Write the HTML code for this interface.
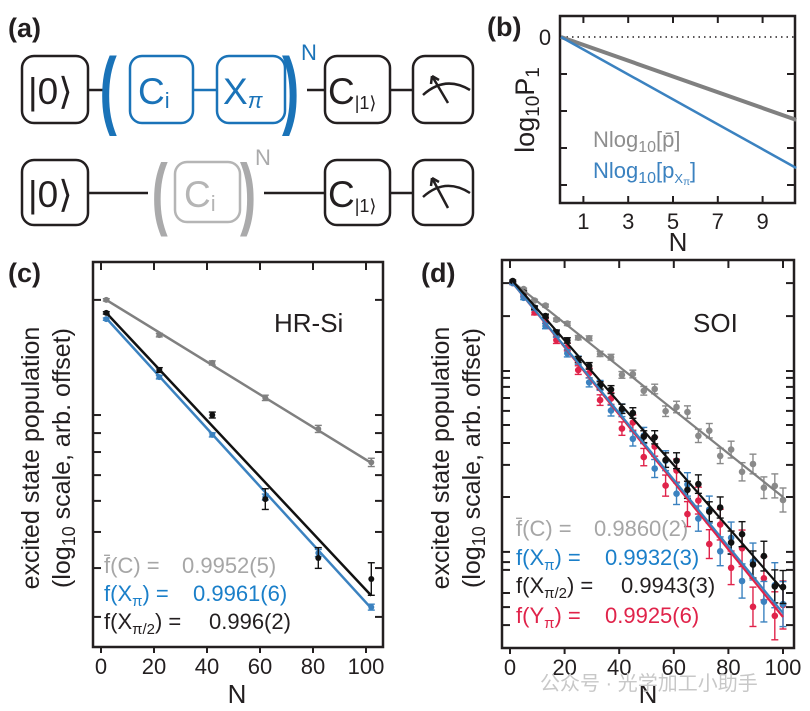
<!DOCTYPE html>
<html><head><meta charset="utf-8"><style>
body{margin:0;background:#fff;}
svg{display:block;font-family:"Liberation Sans","Noto Sans CJK SC",sans-serif;}
</style></head><body>
<svg id="fig" width="810" height="711" viewBox="0 0 810 711" xmlns="http://www.w3.org/2000/svg">
<text x="8" y="37" font-size="27" font-weight="bold" fill="#231f20">(a)</text>
<text x="487" y="36" font-size="27" font-weight="bold" fill="#231f20">(b)</text>
<text x="8" y="282" font-size="27" font-weight="bold" fill="#231f20">(c)</text>
<text x="421" y="282" font-size="27" font-weight="bold" fill="#231f20">(d)</text>

<g stroke-width="2.5" fill="none">
  <g>
    <line x1="88" y1="90" x2="104" y2="90" stroke="#231f20"/>
    <line x1="193" y1="90" x2="217" y2="90" stroke="#1a73b8"/>
    <line x1="307" y1="90" x2="325" y2="90" stroke="#231f20"/>
    <line x1="390" y1="90" x2="413" y2="90" stroke="#231f20"/>
    <rect x="22" y="56" width="66" height="67" rx="12" stroke="#231f20"/>
    <rect x="130" y="56" width="63" height="67" rx="12" stroke="#1a73b8"/>
    <rect x="217" y="56" width="68" height="67" rx="12" stroke="#1a73b8"/>
    <rect x="325" y="56" width="65" height="67" rx="12" stroke="#231f20"/>
    <rect x="413" y="56" width="60" height="67" rx="12" stroke="#231f20"/>
    <path d="M423 95 Q445 75 470 90 M448 103 L432 76 M432 76 l-1 8 M432 76 l7 4" stroke="#231f20"/>
  </g>
  <g>
    <line x1="88" y1="193" x2="148" y2="193" stroke="#231f20"/>
    <line x1="264" y1="193" x2="325" y2="193" stroke="#231f20"/>
    <line x1="390" y1="193" x2="413" y2="193" stroke="#231f20"/>
    <rect x="22" y="160" width="66" height="65" rx="12" stroke="#231f20"/>
    <rect x="175" y="162" width="65" height="60" rx="12" stroke="#b5b5b5"/>
    <rect x="325" y="160" width="65" height="65" rx="12" stroke="#231f20"/>
    <rect x="413" y="160" width="60" height="65" rx="12" stroke="#231f20"/>
    <path d="M423 197 Q445 177 470 193 M448 208 L432 178 M432 178 l-1 8 M432 178 l7 4" stroke="#231f20"/>
  </g>
</g>
<g font-size="37">
  <text x="28" y="104" fill="#231f20">|0⟩</text>
  <text x="100" y="118" font-size="86" fill="#1a73b8" font-weight="bold" transform="scale(0.6,1) translate(66,0)">(</text>
  <text x="138" y="104" fill="#1a73b8">C<tspan font-size="22" dy="4">i</tspan></text>
  <text x="223" y="104" fill="#1a73b8">X<tspan font-size="22" dy="4" font-style="italic">π</tspan></text>
  <text x="282" y="118" font-size="86" fill="#1a73b8" font-weight="bold" transform="scale(0.6,1) translate(188,0)">)</text>
  <text x="301" y="60" font-size="22" fill="#1a73b8">N</text>
  <text x="328" y="104" fill="#231f20">C<tspan font-size="18" dy="5">|1⟩</tspan></text>
  <text x="28" y="207" fill="#231f20">|0⟩</text>
  <text x="152" y="220" font-size="80" fill="#aaaaab" font-weight="bold" transform="scale(0.6,1) translate(101,0)">(</text>
  <text x="184" y="207" fill="#b5b5b5">C<tspan font-size="22" dy="4">i</tspan></text>
  <text x="240" y="220" font-size="80" fill="#aaaaab" font-weight="bold" transform="scale(0.6,1) translate(160,0)">)</text>
  <text x="255" y="165" font-size="22" fill="#aaaaab">N</text>
  <text x="328" y="207" fill="#231f20">C<tspan font-size="18" dy="5">|1⟩</tspan></text>
</g>

<g id="pb"></g>
<g id="pc"></g>
<g id="pd"></g>

<text x="540" y="690" font-size="20" fill="#c8c8c8">公众号 · 光学加工小助手</text>
</svg>
<script>
// ---------- Panel b data ----------
const bN = [0, 10.5];
const bGray = [0, -2.24];
const bBlue = [0, -3.54];
const bXTicks = [1, 3, 5, 7, 9];
const bYTicks = [-1, -2, -3, -4];

// ---------- Panel c data ----------
const cN = [2, 22, 42, 62, 82, 102];
const cGray = [-0.128, -0.247, -0.341, -0.459, -0.564, -0.677];
const cBlue = [-0.193, -0.389, -0.584, -0.794, -0.983, -1.166];
const cBlack = [-0.172, -0.365, -0.517, -0.801, -1.0, -1.071];
const cGrayErr = [0.004, 0.006, 0.007, 0.009, 0.012, 0.014];
const cBlueErr = [0.004, 0.006, 0.007, 0.01, 0.012, 0.01];
const cBlackErr = [0.004, 0.008, 0.01, 0.035, 0.035, 0.055];
const cFitN = [2, 102];
const cFitGray = [-0.128, -0.679];
const cFitBlue = [-0.19, -1.17];
const cFitBlack = [-0.172, -1.127];
const cXTicks = [0, 20, 40, 60, 80, 100];
const cYTicks = [-0.128, -0.517, -0.578, -0.642, -0.720, -0.807, -0.912, -1.034, -1.199];

// ---------- Panel d data ----------
const dN = [1,5,9,13,17,21,25,29,33,37,41,45,49,53,57,61,65,69,73,77,81,85,89,93,97,100];
const dGray = [-0.073,-0.097,-0.135,-0.152,-0.199,-0.212,-0.259,-0.261,-0.313,-0.324,-0.383,-0.380,-0.436,-0.430,-0.504,-0.490,-0.507,-0.586,-0.569,-0.653,-0.632,-0.706,-0.680,-0.759,-0.753,-0.800];
const dBlue = [-0.077,-0.126,-0.160,-0.220,-0.247,-0.311,-0.334,-0.408,-0.418,-0.502,-0.501,-0.596,-0.585,-0.695,-0.669,-0.779,-0.748,-0.862,-0.832,-0.971,-0.926,-1.070,-1.005,-1.139,-1.084,-1.147];
const dBlack = [-0.070,-0.108,-0.159,-0.187,-0.241,-0.268,-0.332,-0.353,-0.418,-0.432,-0.496,-0.510,-0.589,-0.591,-0.667,-0.669,-0.766,-0.747,-0.839,-0.825,-0.942,-0.914,-1.015,-0.987,-1.088,-1.090];
const dRed = [-0.077,-0.116,-0.175,-0.202,-0.267,-0.290,-0.367,-0.377,-0.467,-0.462,-0.562,-0.542,-0.657,-0.622,-0.752,-0.702,-0.847,-0.802,-0.947,-0.882,-1.026,-0.961,-1.156,-1.061,-1.186,-1.150];
const dErr = [0.003,0.004,0.005,0.006,0.007,0.008,0.009,0.01,0.011,0.012,0.014,0.016,0.018,0.02,0.022,0.024,0.026,0.028,0.03,0.032,0.035,0.038,0.041,0.045,0.05,0.05];
const dFitN = [1, 100];
const dFitGray = [-0.073, -0.79];
const dFitBlue = [-0.077, -1.177];
const dFitBlack = [-0.07, -1.1];
const dFitRed = [-0.077, -1.19];
const dXTicks = [0, 20, 40, 60, 80, 100];
const dYTicks = [-0.077,-0.187,-0.37,-0.393,-0.423,-0.46,-0.503,-0.55,-0.61,-0.683,-0.79,-0.973,-1.007,-1.033,-1.11,-1.157,-1.217];

const NS = "http://www.w3.org/2000/svg";
function mk(parent, tag, attrs) {
  const e = document.createElementNS(NS, tag);
  for (const k in attrs) e.setAttribute(k, attrs[k]);
  parent.appendChild(e);
  return e;
}
const BLUE = "#3b82c0", BLACK = "#111", RED = "#e0234a";

(function () {
  const g = document.getElementById("pb");
  const x = n => 561 + n * 22.4;
  const y = v => 37 - v * 37;
  const box = mk(g, "rect", {x: 560, y: 16, width: 235, height: 187, fill: "none", stroke: "#231f20", "stroke-width": 2.5});
  
  
  const zero = mk(g, "line", {x1: 561, y1: y(0), x2: 795, y2: y(0), stroke: "#231f20", "stroke-width": 1.5, "stroke-dasharray": "1.5,4"});
  
  
  bXTicks.forEach(t => {
    mk(g, "line", {x1: x(t), y1: 16, x2: x(t), y2: 23, stroke: "#231f20", "stroke-width": 2});
    mk(g, "line", {x1: x(t), y1: 203, x2: x(t), y2: 196, stroke: "#231f20", "stroke-width": 2});
    const tl = mk(g, "text", {x: x(t), y: 229, "font-size": 22, "text-anchor": "middle", fill: "#231f20"});
    tl.textContent = t;
    
    
  });
  bYTicks.forEach(t => {
    mk(g, "line", {x1: 795, y1: y(t), x2: 787, y2: y(t), stroke: "#231f20", "stroke-width": 2});
    mk(g, "line", {x1: 560, y1: y(t), x2: 567, y2: y(t), stroke: "#231f20", "stroke-width": 2});
  });
  const l1 = mk(g, "polyline", {points: bN.map((n, i) => x(n) + "," + y(bGray[i])).join(" "), fill: "none", stroke: "#808080", "stroke-width": 4});
  
  
  const l2 = mk(g, "polyline", {points: bN.map((n, i) => x(n) + "," + y(bBlue[i])).join(" "), fill: "none", stroke: BLUE, "stroke-width": 2.5});
  
  
  const z = mk(g, "text", {x: 545, y: 45, "font-size": 22, "text-anchor": "middle", fill: "#231f20"});
  z.textContent = "0";
  
  
  const yl = mk(g, "text", {x: 0, y: 0, "font-size": 27, "text-anchor": "middle", fill: "#231f20", transform: "translate(534,110) rotate(-90)"});
  yl.innerHTML = 'log<tspan font-size="19" dy="5">10</tspan><tspan dy="-5">P</tspan><tspan font-size="19" dy="5">1</tspan>';
  
  
  const xl = mk(g, "text", {x: 678, y: 251, "font-size": 26, "text-anchor": "middle", fill: "#231f20"});
  xl.textContent = "N";
  
  
  const lg1 = mk(g, "text", {x: 593, y: 147, "font-size": 22, fill: "#8e8e8e"});
  lg1.innerHTML = 'Nlog<tspan font-size="16" dy="5">10</tspan><tspan dy="-5">[p̄]</tspan>';
  
  
  const lg2 = mk(g, "text", {x: 593, y: 178, "font-size": 22, fill: BLUE});
  lg2.innerHTML = 'Nlog<tspan font-size="16" dy="5">10</tspan><tspan dy="-5">[p</tspan><tspan font-size="13" dy="5">X</tspan><tspan font-size="10" dy="2">π</tspan><tspan dy="-7">]</tspan>';
  
  
})();

function axesPanel(g, X0, X1, Y0, Y1, x, y, xTicks, yTicks, name) {
  const box = mk(g, "rect", {x: X0, y: Y0, width: X1 - X0, height: Y1 - Y0, fill: "none", stroke: "#231f20", "stroke-width": 2.5});
  
  
  xTicks.forEach(t => {
    mk(g, "line", {x1: x(t), y1: Y0, x2: x(t), y2: Y0 + 8, stroke: "#231f20", "stroke-width": 2});
    mk(g, "line", {x1: x(t), y1: Y1, x2: x(t), y2: Y1 + 6, stroke: "#231f20", "stroke-width": 2});
    const tl = mk(g, "text", {x: x(t), y: Y1 + 27, "font-size": 22, "text-anchor": "middle", fill: "#231f20"});
    tl.textContent = t;
    
    
  });
  yTicks.forEach(t => {
    mk(g, "line", {x1: X0, y1: y(t), x2: X0 + 8, y2: y(t), stroke: "#231f20", "stroke-width": 2});
    mk(g, "line", {x1: X1, y1: y(t), x2: X1 - 8, y2: y(t), stroke: "#231f20", "stroke-width": 2});
  });
}
function series(g, x, y, ns, vals, errs, color, r, name, errScale) {
  const sg = mk(g, "g", {});
  
  
  ns.forEach((n, i) => {
    const e = errs[i] * errScale;
    mk(sg, "line", {x1: x(n), y1: y(vals[i] + e), x2: x(n), y2: y(vals[i] - e), stroke: color, "stroke-width": 1.4});
    mk(sg, "line", {x1: x(n) - 3.5, y1: y(vals[i] + e), x2: x(n) + 3.5, y2: y(vals[i] + e), stroke: color, "stroke-width": 1.4});
    mk(sg, "line", {x1: x(n) - 3.5, y1: y(vals[i] - e), x2: x(n) + 3.5, y2: y(vals[i] - e), stroke: color, "stroke-width": 1.4});
    const c = mk(sg, "circle", {cx: x(n), cy: y(vals[i]), r: r, fill: color});
    
    
  });
}
function fit(g, x, y, ns, vs, color, w, name) {
  const l = mk(g, "line", {x1: x(ns[0]), y1: y(vs[0]), x2: x(ns[1]), y2: y(vs[1]), stroke: color, "stroke-width": w});
  
  
}
function label(g, x, y, size, color, html, name, anchor) {
  const t = mk(g, "text", {x: x, y: y, "font-size": size, fill: color, "text-anchor": anchor || "start"});
  t.innerHTML = html;
  
  
  return t;
}

(function () {
  const g = document.getElementById("pc");
  const x = n => 101 + n * 2.65;
  const y = v => 262 - v * 296;
  axesPanel(g, 93, 383, 262, 647, x, y, cXTicks, cYTicks, "c");
  fit(g, x, y, cFitN, cFitGray, "#808080", 2.5, "fit-line-gray");
  fit(g, x, y, cFitN, cFitBlue, BLUE, 2.5, "fit-line-blue");
  fit(g, x, y, cFitN, cFitBlack, BLACK, 2.5, "fit-line-black");
  series(g, x, y, cN, cGray, cGrayErr, "#808080", 3, "series-gray-c", 1);
  series(g, x, y, cN, cBlue, cBlueErr, BLUE, 3, "series-blue-c", 1);
  series(g, x, y, cN, cBlack, cBlackErr, BLACK, 3, "series-black-c", 1);
  label(g, 274, 332, 26, "#231f20", "HR-Si", "sample-label-hrsi");
  label(g, 104, 573, 22, "#a6a6a6", 'f̄(C) =', "legend-gray-c");
  label(g, 182, 573, 22, "#a6a6a6", '0.9952(5)', "legend-gray-c-value");
  label(g, 104, 601, 22, "#1a7fc9", 'f(X<tspan font-size="15" dy="5">π</tspan><tspan dy="-5">) =</tspan>', "legend-blue-c");
  label(g, 193, 601, 22, "#1a7fc9", '0.9961(6)', "legend-blue-c-value");
  label(g, 104, 629, 22, "#231f20", 'f(X<tspan font-size="15" dy="5">π/2</tspan><tspan dy="-5">) =</tspan>', "legend-black-c");
  label(g, 209, 629, 22, "#231f20", '0.996(2)', "legend-black-c-value");
  label(g, 237, 703, 26, "#231f20", "N", "x-axis-title-c", "middle");
  const yt = label(g, 0, 0, 25, "#231f20", "excited state population", "y-axis-title-c", "middle");
  yt.setAttribute("transform", "translate(39,458) rotate(-90)");
  const yt2 = label(g, 0, 0, 25, "#231f20", '(log<tspan font-size="18" dy="5">10</tspan><tspan dy="-5"> scale, arb. offset)</tspan>', "y-axis-subtitle-c", "middle");
  yt2.setAttribute("transform", "translate(70,458) rotate(-90)");
})();

(function () {
  const g = document.getElementById("pd");
  const x = n => 510 + n * 2.73;
  const y = v => 260 - v * 300;
  axesPanel(g, 502, 794, 260, 648, x, y, dXTicks, dYTicks, "d");
  series(g, x, y, dN, dGray, dErr, "#8a8a8a", 3.3, "series-gray-d", 0.8);
  series(g, x, y, dN, dRed, dErr, RED, 3.3, "series-red-d", 1.6);
  series(g, x, y, dN, dBlue, dErr, BLUE, 3.3, "series-blue-d", 1.5);
  series(g, x, y, dN, dBlack, dErr, BLACK, 3.3, "series-black-d", 1.1);
  fit(g, x, y, dFitN, dFitGray, "#808080", 2.2, "fit-line-gray-d");
  fit(g, x, y, dFitN, dFitRed, RED, 2.2, "fit-line-red-d");
  fit(g, x, y, dFitN, dFitBlue, BLUE, 2.2, "fit-line-blue-d");
  fit(g, x, y, dFitN, dFitBlack, BLACK, 2.2, "fit-line-black-d");
  label(g, 693, 332, 26, "#231f20", "SOI", "sample-label-soi");
  label(g, 516, 536, 22, "#a6a6a6", 'f̄(C) =', "legend-gray-d");
  label(g, 594, 536, 22, "#a6a6a6", '0.9860(2)', "legend-gray-d-value");
  label(g, 516, 565, 22, "#1a7fc9", 'f(X<tspan font-size="15" dy="5">π</tspan><tspan dy="-5">) =</tspan>', "legend-blue-d");
  label(g, 605, 565, 22, "#1a7fc9", '0.9932(3)', "legend-blue-d-value");
  label(g, 516, 593, 22, "#231f20", 'f(X<tspan font-size="15" dy="5">π/2</tspan><tspan dy="-5">) =</tspan>', "legend-black-d");
  label(g, 621, 593, 22, "#231f20", '0.9943(3)', "legend-black-d-value");
  label(g, 516, 623, 22, RED, 'f(Y<tspan font-size="15" dy="5">π</tspan><tspan dy="-5">) =</tspan>', "legend-red-d");
  label(g, 605, 623, 22, RED, '0.9925(6)', "legend-red-d-value");
  label(g, 648, 703, 26, "#231f20", "N", "x-axis-title-d", "middle");
  const yt = label(g, 0, 0, 25, "#231f20", "excited state population", "y-axis-title-d", "middle");
  yt.setAttribute("transform", "translate(449,458) rotate(-90)");
  const yt2 = label(g, 0, 0, 25, "#231f20", '(log<tspan font-size="18" dy="5">10</tspan><tspan dy="-5"> scale, arb. offset)</tspan>', "y-axis-subtitle-d", "middle");
  yt2.setAttribute("transform", "translate(480,458) rotate(-90)");
})();
</script>
</body></html>
